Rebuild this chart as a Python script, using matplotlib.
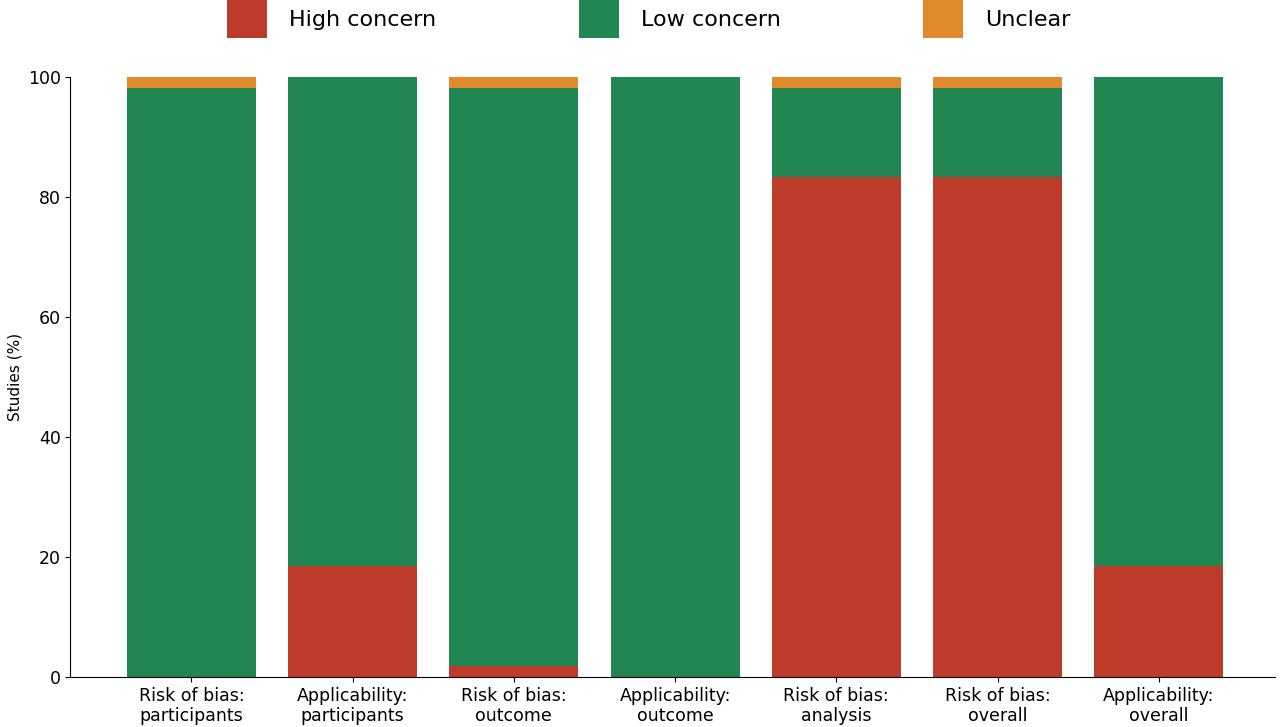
import numpy as np
import matplotlib.pyplot as plt

categories = ["Risk of bias:\nparticipants", "Applicability:\nparticipants",
              "Risk of bias:\noutcome", "Applicability:\noutcome",
              "Risk of bias:\nanalysis", "Risk of bias:\noverall",
              "Applicability:\noverall"]
high = [0.0, 18.5, 1.85, 0.0, 83.3, 83.3, 18.5]
unclear = [1.85, 0.0, 1.85, 0.0, 1.85, 1.85, 0.0]
low = [100 - h - u for h, u in zip(high, unclear)]

c_high = "#bc3b2b"
c_low = "#228652"
c_unclear = "#e08a2c"

fig = plt.figure(figsize=(12.8, 7.27), dpi=100)
ax = fig.add_axes([0.055, 0.069, 0.941, 0.825])

x = np.arange(len(categories))
ax.bar(x, high, width=0.8, color=c_high, label="High concern")
ax.bar(x, low, width=0.8, bottom=high, color=c_low, label="Low concern")
bot = [h + l for h, l in zip(high, low)]
ax.bar(x, unclear, width=0.8, bottom=bot, color=c_unclear, label="Unclear")

ax.set_xlim(-0.75, 6.72)
ax.set_ylim(0, 100)
ax.set_xticks(x)
ax.set_xticklabels(categories, fontsize=12.5)
ax.tick_params(axis="both", labelsize=12.5)
ax.set_ylabel("Studies (%)", fontsize=11)
ax.spines["top"].set_visible(False)
ax.spines["right"].set_visible(False)

fig.legend(loc="upper center", bbox_to_anchor=(0.507, 1.0), ncol=3, frameon=False,
           fontsize=16, handlelength=1.8, handleheight=2.25, handletextpad=1.0,
           columnspacing=6.4, borderaxespad=0, borderpad=0)

fig.savefig("out.png", dpi=100)
